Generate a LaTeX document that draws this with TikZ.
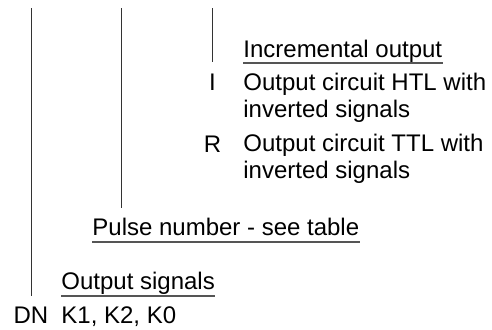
\documentclass[tikz,border=0pt]{standalone}
\usepackage{fontspec}
\setmainfont{Liberation Sans}
\usetikzlibrary{positioning,calc}
\definecolor{leadgray}{HTML}{333333}
\definecolor{rulegray}{HTML}{555555}

\begin{document}
\begin{tikzpicture}[
  x=0.5pt, y=-0.5pt,
  every node/.style={font=\fontsize{12}{13.5}\selectfont, inner sep=0pt},
  code/.style={anchor=base},
  desc/.style={anchor=base west, align=left},
  head/.style={anchor=base west},
  lead/.style={draw=leadgray, line width=0.5pt},
  uline/.style={draw=rulegray, line width=0.6pt},
]
\useasboundingbox (0,0) rectangle (492,329);

%% Top ends of the lead lines
\coordinate (topdn)    at (31,8);
\coordinate (toppulse) at (121,8);
\coordinate (topout)   at (212.5,8);

%% Incremental output group (desc nodes sit on their last baseline)
\node[head] (inc) at (243,57) {Incremental output};
\node[code] (codeI) at (212.5,90) {I};
\node[desc] (htl) at (243,117) {Output circuit HTL with\\inverted signals};
\node[code] (codeR) at (212.5,152) {R};
\node[desc] (ttl) at (243,178) {Output circuit TTL with\\inverted signals};

%% Pulse number
\node[head] (pulse) at (92,235) {Pulse number - see table};

%% Output signals
\node[head] (outs) at (61,289) {Output signals};
\node[code] (dn) at (31,323) {DN};
\node[head] (ks) at (61,323) {K1, K2, K0};

%% Underlines
\draw[uline] ([yshift=-3pt]inc.base west)   -- ([yshift=-3pt]inc.base east);
\draw[uline] ([yshift=-3.5pt]pulse.base west) -- ([yshift=-3.5pt]pulse.base east);
\draw[uline] ([yshift=-3.5pt]outs.base west)  -- ([yshift=-3.5pt]outs.base east);

%% Lead lines
\draw[lead, shorten >=5.5pt] (topout)   -- (codeI);
\draw[lead, shorten >=4.5pt] (toppulse) -- (toppulse |- pulse.north);
\draw[lead, shorten >=5pt]   (topdn)    -- (dn);

\end{tikzpicture}
\end{document}
